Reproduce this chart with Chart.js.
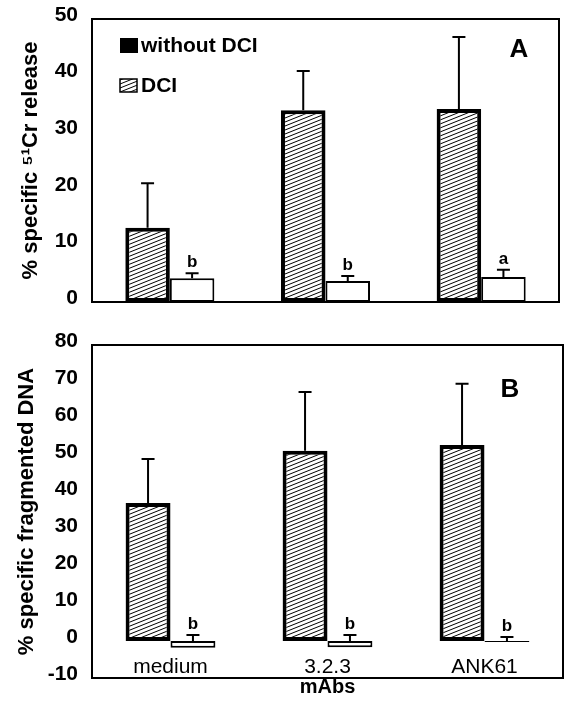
<!DOCTYPE html>
<html>
<head>
<meta charset="utf-8">
<script src="https://cdn.jsdelivr.net/npm/chart.js@4.4.1/dist/chart.umd.min.js"></script>
<style>
  body { margin: 0; background: #fff; }
  #wrap { position: relative; width: 582px; height: 703px; }
  #chartA { position: absolute; left: 0; top: 0; }
  #chartB { position: absolute; left: 0; top: 318px; }
</style>
</head>
<body>
<div id="wrap">
  <canvas id="chartA" width="582" height="318"></canvas>
  <canvas id="chartB" width="582" height="385"></canvas>
</div>
<script>
// groups (mAbs)
var groups = ['medium', '3.2.3', 'ANK61'];

// panel A: % specific 51Cr release
var releaseDCI = [13.1, 33.9, 34.1];
var releaseDCIErr = [7.9, 6.9, 12.7];
var releaseNoDCI = [4.2, 3.7, 4.4];
var releaseNoDCIErr = [0.9, 0.9, 1.3];
var releaseNotes = ['b', 'b', 'a'];
var releaseTicks = { min: 0, max: 50, step: 10 };

// panel B: % specific fragmented DNA
var dnaDCI = [37.3, 51.4, 53.0];
var dnaDCIErr = [11.9, 15.9, 16.5];
var dnaNoDCI = [-1.8, -1.7, -0.3];
var dnaNoDCIErr = [3.4, 3.3, 1.4];
var dnaNotes = ['b', 'b', 'b'];
var dnaTicks = { min: -10, max: 80, step: 10 };

var legendLabels = ['without DCI', 'DCI'];

Chart.defaults.font.family = 'Liberation Sans';
Chart.defaults.color = '#000';

function makeHatch() {
    var c = document.createElement('canvas');
    c.width = 10; c.height = 4;
    var g = c.getContext('2d');
    g.fillStyle = '#fff';
    g.fillRect(0, 0, 10, 4);
    g.strokeStyle = '#000';
    g.lineWidth = 1;
    [-4, 0, 4].forEach(function(d) {
        g.beginPath();
        g.moveTo(0, 4 + d);
        g.lineTo(10, 0 + d);
        g.stroke();
    });
    return g.createPattern(c, 'repeat');
}
var hatch = makeHatch();

// error bars, frame, letters and legend
var deco = {
    id: 'deco',
    afterDatasetsDraw: function(chart, args, opts) {
        var ctx = chart.ctx, area = chart.chartArea, y = chart.scales.y;
        ctx.save();
        ctx.strokeStyle = '#000';
        ctx.fillStyle = '#000';
        chart.data.datasets.forEach(function(ds, i) {
            var meta = chart.getDatasetMeta(i);
            meta.data.forEach(function(bar, j) {
                // error bar starts at the upper edge of the bar
                var base = y.getPixelForValue(Math.max(ds.data[j], 0));
                var top = y.getPixelForValue(ds.data[j] + ds.errors[j]);
                ctx.lineWidth = 2;
                ctx.beginPath();
                ctx.moveTo(bar.x, base);
                ctx.lineTo(bar.x, top);
                ctx.moveTo(bar.x - 6.5, top);
                ctx.lineTo(bar.x + 6.5, top);
                ctx.stroke();
                if (ds.notes) {
                    ctx.font = 'bold 17px Liberation Sans';
                    ctx.textAlign = 'center';
                    ctx.textBaseline = 'alphabetic';
                    ctx.fillText(ds.notes[j], bar.x, top - 6);
                }
            });
        });

        ctx.lineWidth = 2;
        ctx.strokeRect(area.left, area.top, area.right - area.left, area.bottom - area.top);

        ctx.font = 'bold 26px Liberation Sans';
        ctx.textAlign = 'center';
        ctx.textBaseline = 'middle';
        ctx.fillText(opts.letter, area.right - opts.letterDx, area.top + opts.letterDy);

        if (opts.legend) {
            var lx = area.left + 28, ly = area.top + 19;
            ctx.fillRect(lx, ly, 18, 15);
            ctx.fillStyle = hatch;
            ctx.fillRect(lx, ly + 41, 17, 13);
            ctx.lineWidth = 1.5;
            ctx.strokeRect(lx, ly + 41, 17, 13);
            ctx.fillStyle = '#000';
            ctx.font = 'bold 21px Liberation Sans';
            ctx.textAlign = 'left';
            ctx.fillText(legendLabels[0], lx + 21, ly + 8);
            ctx.fillText(legendLabels[1], lx + 21, ly + 48);
        }
        ctx.restore();
    }
};

function yAxis(t, title, titlePad) {
    return {
        min: t.min, max: t.max,
        ticks: { stepSize: t.step, padding: 14, labelOffset: -4,
                 font: { size: 21, weight: 'bold' } },
        grid: { display: false, drawTicks: false },
        border: { display: false },
        title: { display: true, text: title, font: { size: 22, weight: 'bold' },
                 padding: { top: titlePad, bottom: 0 } },
        afterFit: function(s) {
            s.width = 92;
            s.paddingTop = 0;
            s.paddingBottom = 0;
        }
    };
}

function datasets(dci, dciErr, no, noErr, notes) {
    return [{
        label: 'DCI',
        data: dci, errors: dciErr,
        backgroundColor: hatch, borderColor: '#000', borderWidth: 4, borderSkipped: false
    }, {
        label: 'without DCI',
        data: no, errors: noErr, notes: notes,
        backgroundColor: '#fff', borderColor: '#000', borderWidth: 2, borderSkipped: false
    }];
}

new Chart(document.getElementById('chartA'), {
    type: 'bar',
    data: { labels: groups, datasets: datasets(releaseDCI, releaseDCIErr, releaseNoDCI, releaseNoDCIErr, releaseNotes) },
    options: {
        responsive: false, animation: false,
        categoryPercentage: 0.572, barPercentage: 1.0,
        layout: { padding: { top: 19, right: 23, bottom: 16, left: 0 } },
        scales: {
            x: { display: false },
            y: yAxis(releaseTicks, '% specific \u2075\u00b9Cr release', 18)
        },
        plugins: {
            legend: { display: false }, tooltip: { enabled: false },
            deco: { letter: 'A', letterDx: 40, letterDy: 31, legend: true }
        }
    },
    plugins: [deco]
});

new Chart(document.getElementById('chartB'), {
    type: 'bar',
    data: { labels: groups, datasets: datasets(dnaDCI, dnaDCIErr, dnaNoDCI, dnaNoDCIErr, dnaNotes) },
    options: {
        responsive: false, animation: false,
        categoryPercentage: 0.572, barPercentage: 1.0,
        layout: { padding: { top: 27, right: 19, bottom: 0, left: 0 } },
        scales: {
            x: {
                ticks: { mirror: true, padding: -2, maxRotation: 0, autoSkip: false, font: { size: 21 } },
                grid: { display: false, drawTicks: false },
                border: { display: false },
                title: { display: true, text: 'mAbs', font: { size: 20, weight: 'bold' },
                         padding: { top: 0, bottom: 4 } },
                afterFit: function(s) { s.height = 25; }
            },
            y: yAxis(dnaTicks, '% specific fragmented DNA', 14)
        },
        plugins: {
            legend: { display: false }, tooltip: { enabled: false },
            deco: { letter: 'B', letterDx: 53, letterDy: 45, legend: false }
        }
    },
    plugins: [deco]
});
</script>
</body>
</html>
